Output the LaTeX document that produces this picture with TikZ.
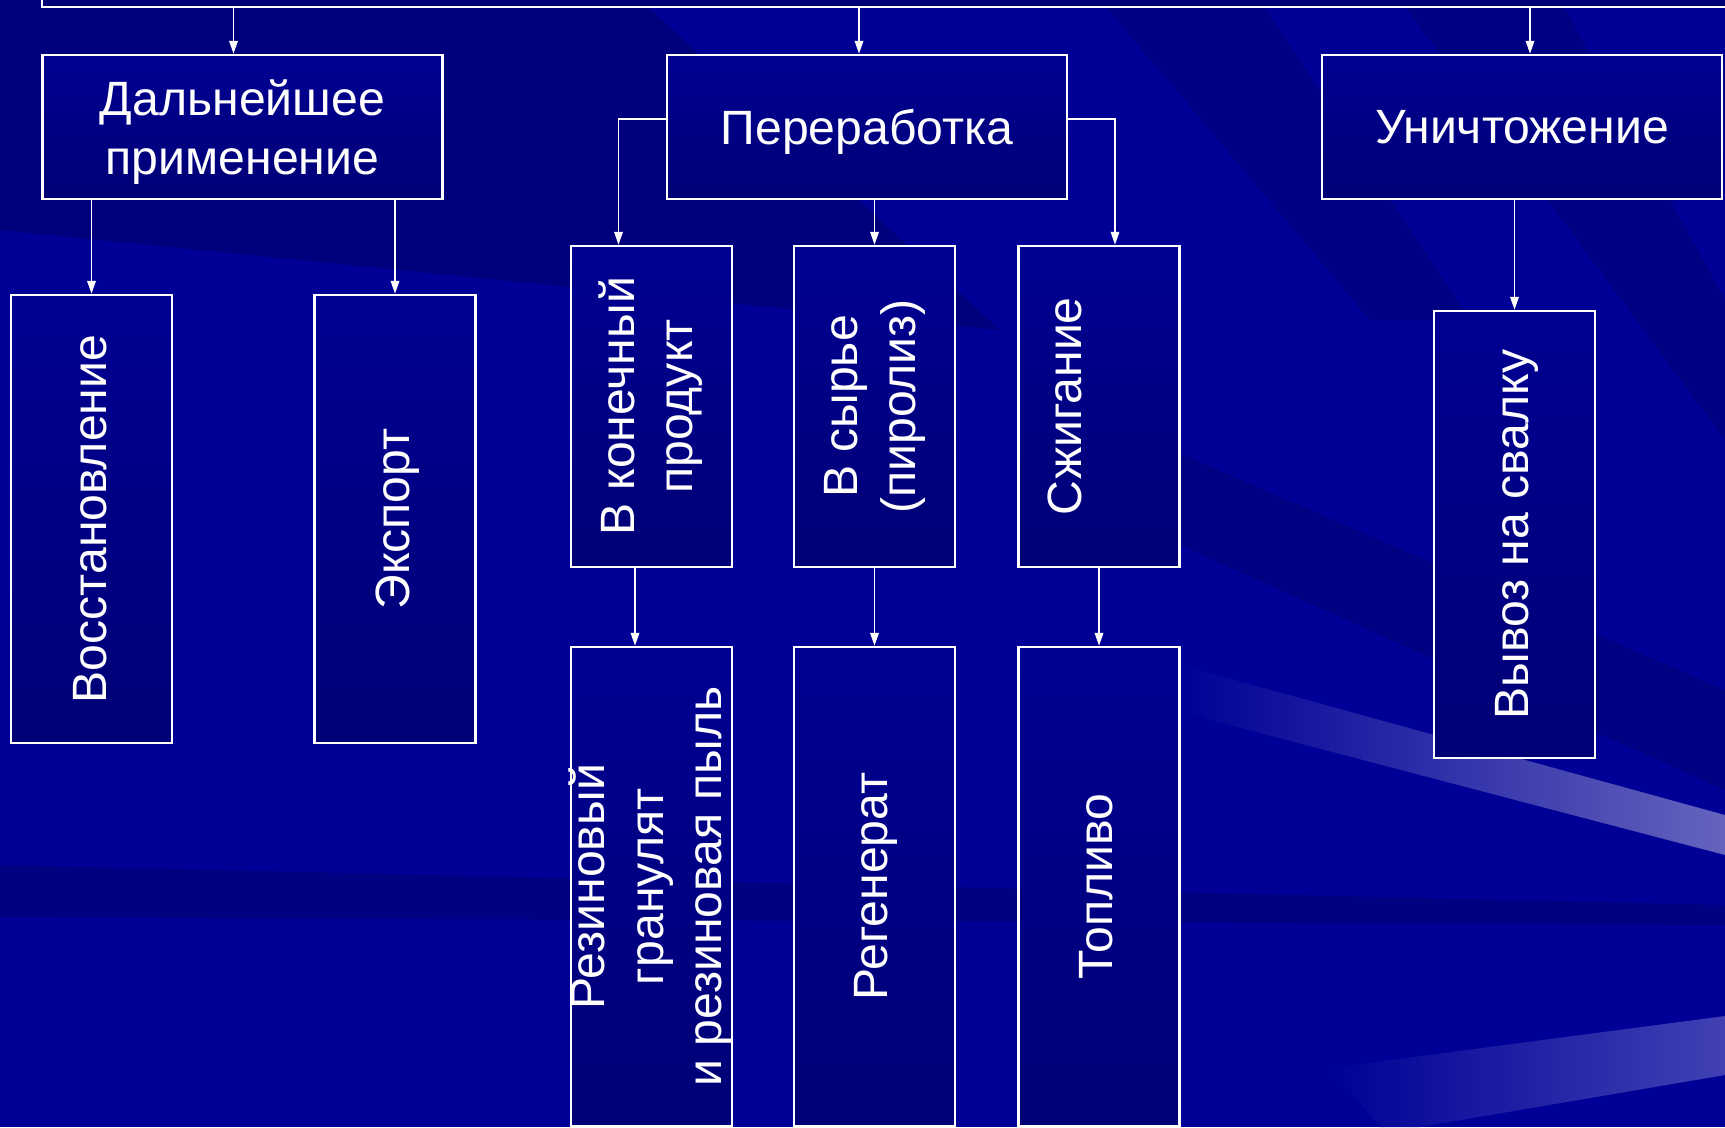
\documentclass[tikz,border=0pt]{standalone}
\usepackage{fontspec}
\setmainfont{Liberation Sans}
\usepackage{graphicx}
\usetikzlibrary{arrows.meta}

\definecolor{bgblue}{RGB}{0,0,150}
\definecolor{darkband}{RGB}{0,0,95}
\definecolor{lightband}{RGB}{100,100,190}
\definecolor{lightwedge}{RGB}{65,65,180}
\definecolor{boxtop}{RGB}{0,0,146}
\definecolor{boxbot}{RGB}{0,0,118}

% vertical text, optional shift towards the right
\newcommand{\vtext}[2][0pt]{\makebox[0pt]{\rotatebox{90}{\raisebox{#1}[\height][\depth]{\begin{tabular}{@{}c@{}}#2\end{tabular}}}}}
% line without descender depth
\newcommand{\nodepth}[1]{\raisebox{0pt}[\height][0pt]{#1}}

\begin{document}
\begin{tikzpicture}[x=0.1mm,y=-0.1mm,
    box/.style={draw=white, line width=0.7pt, top color=boxtop, bottom color=boxbot,
        text=white, align=center, inner sep=0pt,
        font=\fontsize{13.7}{16.6}\selectfont},
    wide/.style={box, minimum width=40mm, minimum height=14.4mm},
    tall/.style={box, minimum width=16.1mm},
    link/.style={draw=white, line width=0.55pt, -{Triangle[length=1.3mm,width=0.85mm]}}]
        \clip (0,0) rectangle (1725,1127);
        % Background
        \fill[bgblue] (0,0) rectangle (1725,1127);
        \fill[darkband, opacity=.45] (0,0) -- (640,0) -- (1000,330) -- (0,230) -- cycle;
        \fill[darkband, opacity=.3] (1100,0) -- (1260,0) -- (1470,320) -- (1370,320) -- cycle;
        \fill[darkband, opacity=.35] (1400,0) -- (1560,0) -- (1725,300) -- (1725,440) -- cycle;
        \fill[darkband, opacity=.35] (1080,410) -- (1725,690) -- (1725,790) -- (1080,500) -- cycle;
        \fill[darkband, opacity=.4] (0,865) -- (1725,905) -- (1725,925) -- (0,917) -- cycle;
        \shade[left color=bgblue, right color=lightband] (1180,665) -- (1725,815) -- (1725,855) -- (1180,712) -- cycle;
        \shade[left color=bgblue, right color=lightwedge] (1330,1068) -- (1725,1016) -- (1725,1075) -- (1420,1127) -- (1380,1127) -- cycle;

        % Boxes
        \node[box, minimum width=180mm, minimum height=12mm] (src) at (942,-53) {};
        \node[wide] (dal) at (242.5,127) {Дальнейшее\\\nodepth{применение}};
        \node[wide] (per) at (867,127) {\nodepth{Переработка}};
        \node[wide] (uni) at (1522,127) {Уничтожение};
        \node[tall, minimum height=44.8mm] (vos) at (91.5,519) {\vtext[-0.9pt]{Восстановление}};
        \node[tall, minimum height=44.8mm] (exp) at (395,519) {\vtext[-0.9pt]{Экспорт}};
        \node[tall, minimum height=32.1mm] (kon) at (651.5,406.5) {\vtext{В конечный\\продукт}};
        \node[tall, minimum height=32.1mm] (syr) at (874.5,406.5) {\vtext{В сырье\\(пиролиз)}};
        \node[tall, minimum height=32.1mm] (szh) at (1099,406.5) {\vtext{Сжигание\\\mbox{}}};
        \node[tall, minimum height=47.9mm] (rez) at (651.5,886.5) {\vtext{Резиновый\\гранулят\\и резиновая пыль}};
        \node[tall, minimum height=47.9mm] (reg) at (874.5,886.5) {\vtext[-0.5pt]{Регенерат}};
        \node[tall, minimum height=47.9mm] (fuel) at (1099,886.5) {\vtext[-0.5pt]{Топливо}};
        \node[tall, minimum height=44.7mm] (vyv) at (1514.5,534.5) {\vtext[-0.6pt]{Вывоз на свалку}};

        % Arrows
        \coordinate (t1) at ([xshift=-0.9mm]dal.north);
        \coordinate (t2) at ([xshift=-0.8mm]per.north);
        \coordinate (t3) at ([xshift=0.8mm]uni.north);
        \foreach \c in {t1,t2,t3}
            \draw[link] (\c |- src.south) -- (\c);
        \foreach \a/\b in {dal/vos, dal/exp, per/syr, uni/vyv}
            \draw[link] (\b.north |- \a.south) -- (\b.north);
        \draw[link] ([yshift=0.8mm]per.west) -| ([xshift=-3.3mm]kon.north);
        \draw[link] ([yshift=0.8mm]per.east) -| ([xshift=1.6mm]szh.north);
        \draw[link] ([xshift=-1.65mm]kon.south) -- ([xshift=-1.65mm]rez.north);
        \draw[link] (syr.south) -- (reg.north);
        \draw[link] (szh.south) -- (fuel.north);
\end{tikzpicture}
\end{document}
